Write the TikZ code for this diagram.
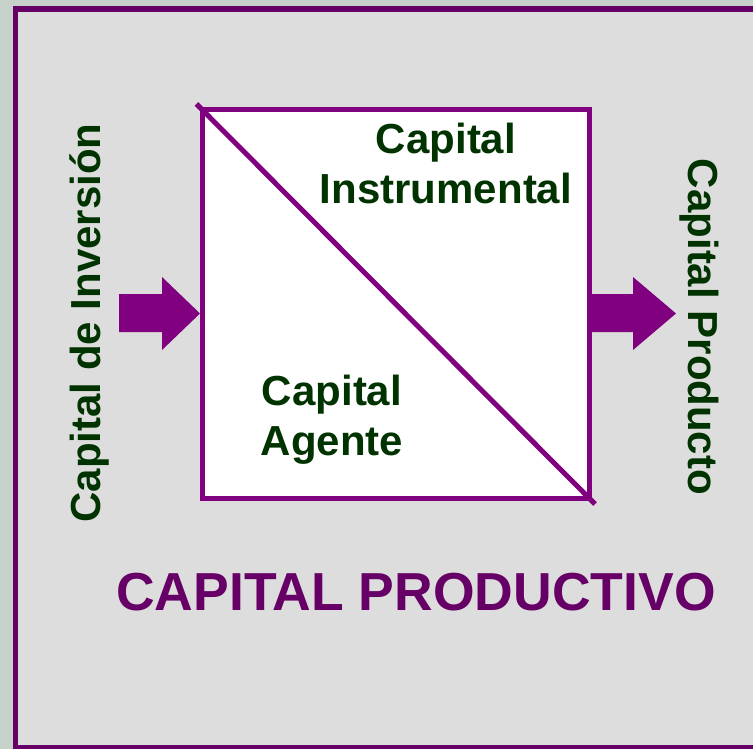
\documentclass[tikz,border=0pt]{standalone}
\usepackage{fontspec}
\setmainfont{Liberation Sans}
\usepackage{tikz}

\definecolor{framepurple}{HTML}{660066}
\definecolor{arrowpurple}{HTML}{800080}
\definecolor{labelgreen}{HTML}{003300}
\definecolor{panelgray}{HTML}{DDDDDD}
\definecolor{outside}{HTML}{C6D1C9}

\begin{document}
\begin{tikzpicture}[x=1pt, y=-1pt,
        label/.style={text=labelgreen, inner sep=0pt, align=center, font=\fontsize{42}{50}\bfseries\selectfont},
        blockarrow/.style={fill=arrowpurple}]
        \useasboundingbox (0,0) rectangle (753,749);
        \fill[outside] (0,0) rectangle (753,749);
        \draw[framepurple, line width=5.5pt, fill=panelgray] (15.5,9) rectangle (770,748);

        \node[draw=arrowpurple, fill=white, line width=5pt, minimum width=386.5pt, minimum height=388pt, inner sep=0pt] (box) at (395.75,304) {};
        \draw[arrowpurple, line width=5pt, shorten <=-5pt, shorten >=-5pt] (box.north west) -- (box.south east);

        \node[label] (instr) at (446,163) {Capital\\Instrumental};
        \node[label] (agente) at (332,420) {Capital\\Agente};

        \node[label, rotate=90, anchor=base] (inversion) at (100,323) {Capital de Inversión};
        \node[label, rotate=-90, anchor=base] (producto) at (688,327) {Capital Producto};

        % block arrows into and out of the box
        \fill[blockarrow] (119,294) -- (162,294) -- (162,277) -- (box.west |- 0,313.5) -- (162,350) -- (162,332) -- (119,332) -- cycle;
        \fill[blockarrow] (box.east |- 0,294) -- (633,294) -- (633,277) -- (676,313.5) -- (633,350) -- (633,332) -- (box.east |- 0,332) -- cycle;

        \node[text=framepurple, inner sep=0pt, anchor=base, font=\fontsize{53.5}{60}\bfseries\selectfont] (title) at (416,610) {CAPITAL PRODUCTIVO};
    \end{tikzpicture}
\end{document}
